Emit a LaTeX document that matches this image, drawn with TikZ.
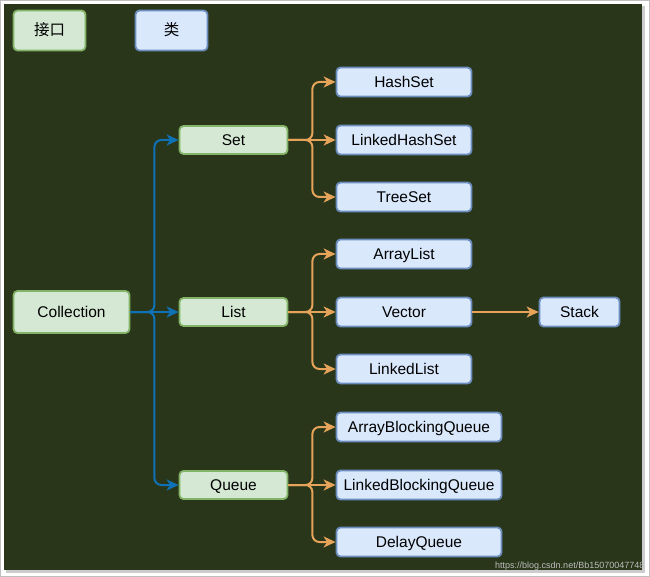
\documentclass[tikz,border=0pt]{standalone}
\usepackage{fontspec}
\setmainfont{Liberation Sans}
\newfontfamily\cjk{Noto Sans CJK SC}
\usetikzlibrary{arrows.meta}
\definecolor{bgdark}{RGB}{41,54,26}
\definecolor{gfill}{HTML}{D5E8D4}
\definecolor{gline}{HTML}{82B366}
\definecolor{bfill}{HTML}{DAE8FC}
\definecolor{bline}{HTML}{6C8EBF}
\definecolor{oedgec}{RGB}{230,163,90}
\definecolor{bedgec}{RGB}{16,114,182}
\definecolor{wmark}{RGB}{190,190,190}
\begin{document}
\begin{tikzpicture}[x=1pt,y=-1pt,
  iface/.style={draw=gline,fill=gfill,line width=1.8pt,rounded corners=4pt,inner sep=0pt,text height=11pt,text depth=0pt,font=\fontsize{15.5}{18}\selectfont,text=black},
  cls/.style={draw=bline,fill=bfill,line width=1.8pt,rounded corners=4pt,inner sep=0pt,text height=11pt,text depth=0pt,font=\fontsize{15.5}{18}\selectfont,text=black},
  oedge/.style={draw=oedgec,line width=2pt,rounded corners=7pt,-{Stealth[length=12pt,width=11pt,inset=3.5pt]}},
  bedge/.style={draw=bedgec,line width=2pt,rounded corners=7pt,-{Stealth[length=12pt,width=11pt,inset=3.5pt]}}
]
\useasboundingbox (0,0) rectangle (650,577);
\fill[white] (0,0) rectangle (650,577);
\draw[black!25,line width=0.8pt] (0.5,0.5) rectangle (649.5,576.5);
\fill[black!20] (6,6) rectangle (645,573);
\fill[bgdark] (4,4) rectangle (642,570);

% legend
\node[iface,minimum width=72pt,minimum height=40pt] (legi) at (49.5,30.5) {\cjk 接口};
\node[cls,minimum width=72pt,minimum height=40pt] (legc) at (171.5,30.5) {\cjk 类};

% interfaces
\node[iface,minimum width=116pt,minimum height=42pt] (coll) at (71.5,312) {Collection};
\node[iface,minimum width=108pt,minimum height=28pt] (set) at (233.5,140) {Set};
\node[iface,minimum width=108pt,minimum height=28pt] (list) at (233.5,312) {List};
\node[iface,minimum width=108pt,minimum height=28pt] (queue) at (233.5,485) {Queue};

% classes
\node[cls,minimum width=135pt,minimum height=29pt] (hashset) at (404,82) {HashSet};
\node[cls,minimum width=135pt,minimum height=29pt] (lhs) at (404,140) {LinkedHashSet};
\node[cls,minimum width=135pt,minimum height=29pt] (treeset) at (404,197) {TreeSet};
\node[cls,minimum width=135pt,minimum height=29pt] (alist) at (404,254) {ArrayList};
\node[cls,minimum width=135pt,minimum height=29pt] (vector) at (404,312) {Vector};
\node[cls,minimum width=135pt,minimum height=29pt] (llist) at (404,369) {LinkedList};
\node[cls,minimum width=165pt,minimum height=29pt] (abq) at (419,427) {ArrayBlockingQueue};
\node[cls,minimum width=165pt,minimum height=29pt] (lbq) at (419,485) {LinkedBlockingQueue};
\node[cls,minimum width=165pt,minimum height=29pt] (dq) at (419,542) {DelayQueue};
\node[cls,minimum width=80pt,minimum height=29pt] (stack) at (579.5,312) {Stack};

% blue edges
\draw[bedge] (coll.east) -- ++(24,0) |- (set.west);
\draw[bedge] (coll.east) -- (list.west);
\draw[bedge] (coll.east) -- ++(24,0) |- (queue.west);

% orange edges
\draw[oedge] (set.east) -- ++(24,0) |- (hashset.west);
\draw[oedge] (set.east) -- (lhs.west);
\draw[oedge] (set.east) -- ++(24,0) |- (treeset.west);
\draw[oedge] (list.east) -- ++(24,0) |- (alist.west);
\draw[oedge] (list.east) -- (vector.west);
\draw[oedge] (list.east) -- ++(24,0) |- (llist.west);
\draw[oedge] (queue.east) -- ++(24,0) |- (abq.west);
\draw[oedge] (queue.east) -- (lbq.west);
\draw[oedge] (queue.east) -- ++(24,0) |- (dq.west);
\draw[oedge] (vector.east) -- (stack.west);

% watermark
\node[anchor=west,inner sep=0pt,text=wmark,font=\fontsize{9}{11}\selectfont] (wm) at (495,566) {https://blog.csdn.net/Bb15070047748};
\end{tikzpicture}
\end{document}
